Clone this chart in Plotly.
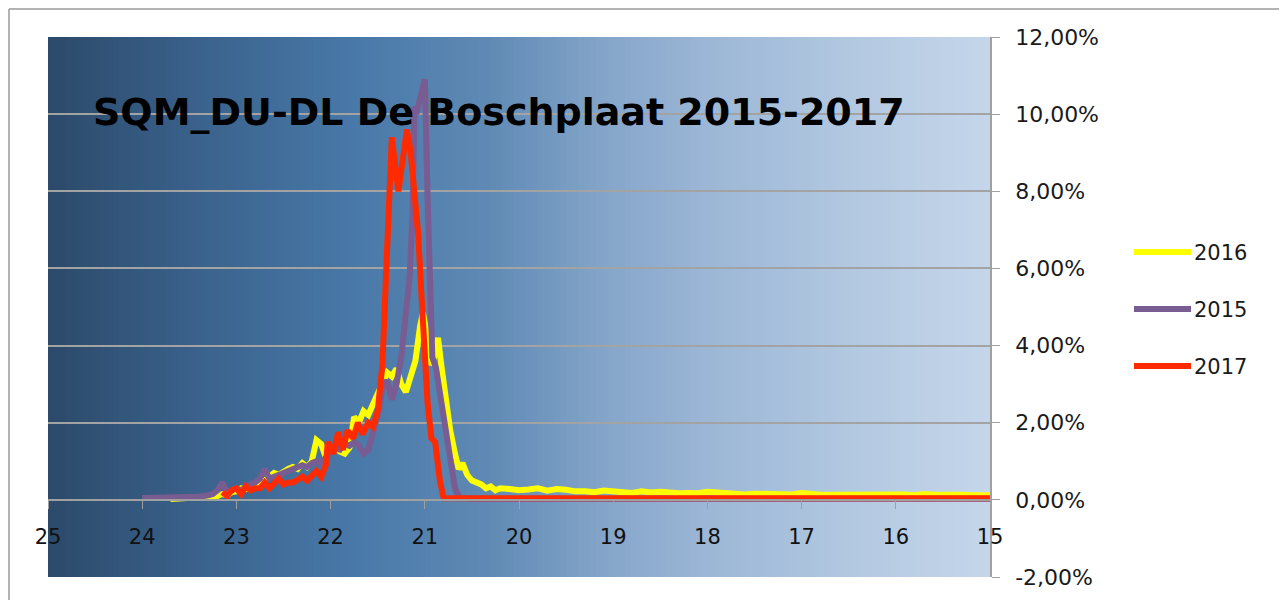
import plotly.graph_objects as go

# ---------------- data (SQM mag/arcsec^2, share of readings in %) ----------------
sqm_2016 = [23.70, 23.60, 23.50, 23.40, 23.30, 23.20, 23.15, 23.10, 23.05, 23.00,
            22.95, 22.90, 22.85, 22.80, 22.75, 22.70, 22.65, 22.60, 22.55, 22.50,
            22.45, 22.40, 22.35, 22.30, 22.25, 22.20, 22.15, 22.10, 22.05, 22.00,
            21.95, 21.90, 21.85, 21.80, 21.75, 21.70, 21.65, 21.60, 21.55, 21.50,
            21.45, 21.40, 21.35, 21.30, 21.25, 21.20, 21.15, 21.10, 21.05, 21.02,
            20.98, 20.94, 20.90, 20.86, 20.82, 20.78, 20.73, 20.68, 20.64, 20.60,
            20.55, 20.50, 20.45, 20.40, 20.35, 20.30, 20.25, 20.20,
            20.1, 20.0, 19.9, 19.8, 19.7, 19.6, 19.5, 19.4, 19.3, 19.2,
            19.1, 19.0, 18.9, 18.8, 18.7, 18.6, 18.5, 18.4, 18.3, 18.2,
            18.1, 18.0, 17.9, 17.8, 17.7, 17.6, 17.5, 17.4, 17.3, 17.2,
            17.1, 17.0, 16.9, 16.8, 16.7, 16.6, 16.5, 16.4, 16.3, 16.2,
            16.1, 16.0, 15.9, 15.8, 15.7, 15.6, 15.5, 15.4, 15.3, 15.2,
            15.1, 15.0]
pct_2016 = [0.02, 0.03, 0.03, 0.05, 0.08, 0.10, 0.15, 0.12, 0.20, 0.22,
            0.30, 0.28, 0.35, 0.40, 0.45, 0.50, 0.60, 0.70, 0.65, 0.75,
            0.80, 0.85, 0.80, 0.95, 0.85, 1.00, 1.55, 1.45, 1.10, 1.30,
            1.35, 1.25, 1.20, 1.35, 2.15, 2.00, 2.30, 2.20, 2.50, 2.80,
            3.10, 3.30, 3.20, 3.40, 3.00, 2.80, 3.20, 3.60, 4.50, 4.85,
            4.30, 3.50, 3.70, 4.20, 3.40, 2.60, 1.80, 1.20, 0.80, 0.95,
            0.65, 0.50, 0.45, 0.40, 0.30, 0.35, 0.25, 0.30,
            0.28, 0.25, 0.27, 0.30, 0.24, 0.28, 0.26, 0.22, 0.22, 0.20,
            0.24, 0.22, 0.20, 0.18, 0.22, 0.19, 0.21, 0.18, 0.17, 0.18,
            0.17, 0.21, 0.19, 0.15, 0.15, 0.14, 0.16, 0.15, 0.14, 0.15,
            0.14, 0.18, 0.15, 0.13, 0.13, 0.13, 0.14, 0.16, 0.16, 0.13,
            0.15, 0.13, 0.14, 0.12, 0.15, 0.13, 0.14, 0.12, 0.13, 0.12,
            0.13, 0.12]

sqm_2015 = [24.00, 23.90, 23.80, 23.70, 23.60, 23.50, 23.40, 23.30, 23.25, 23.20,
            23.15, 23.10, 23.05, 23.00, 22.95, 22.90, 22.85, 22.80, 22.75, 22.70,
            22.65, 22.60, 22.55, 22.50, 22.45, 22.40, 22.35, 22.30, 22.25, 22.20,
            22.15, 22.10, 22.05, 22.00, 21.95, 21.90, 21.85, 21.80, 21.75, 21.70,
            21.65, 21.60, 21.55, 21.50, 21.45, 21.40, 21.35, 21.30, 21.25, 21.20,
            21.16, 21.13, 21.11, 21.09, 21.00, 20.97, 20.92, 20.88, 20.83, 20.78,
            20.73, 20.68, 20.63, 20.5, 20.0, 19.0, 18.0, 17.0, 16.0, 15.0]
pct_2015 = [0.05, 0.05, 0.06, 0.05, 0.07, 0.06, 0.08, 0.12, 0.15, 0.25,
            0.45, 0.20, 0.25, 0.30, 0.25, 0.35, 0.40, 0.45, 0.55, 0.80,
            0.55, 0.60, 0.65, 0.70, 0.75, 0.80, 0.85, 0.90, 0.85, 0.95,
            1.00, 0.95, 1.10, 1.20, 1.35, 1.30, 1.45, 1.40, 1.50, 1.40,
            1.20, 1.30, 1.80, 2.20, 2.90, 3.10, 2.60, 3.00, 3.70, 5.00,
            5.80, 7.50, 10.20, 10.00, 10.90, 7.80, 3.70, 3.40, 2.60, 1.90,
            1.20, 0.30, 0.05, 0.03, 0.03, 0.03, 0.03, 0.03, 0.03, 0.03]

sqm_2017 = [23.15, 23.10, 23.05, 23.00, 22.95, 22.90, 22.85, 22.80, 22.75, 22.70,
            22.65, 22.60, 22.55, 22.50, 22.45, 22.40, 22.35, 22.30, 22.25, 22.20,
            22.15, 22.10, 22.05, 22.03, 21.97, 21.92, 21.87, 21.82, 21.76, 21.71,
            21.66, 21.60, 21.55, 21.50, 21.45, 21.40, 21.35, 21.28, 21.23, 21.19,
            21.15, 21.10, 21.07, 21.04, 21.01, 20.97, 20.93, 20.89, 20.84, 20.80,
            20.5, 20.0, 19.0, 18.0, 17.0, 16.0, 15.0]
pct_2017 = [0.20, 0.10, 0.25, 0.30, 0.15, 0.35, 0.25, 0.30, 0.30, 0.45,
            0.30, 0.40, 0.55, 0.40, 0.45, 0.45, 0.55, 0.60, 0.50, 0.60,
            0.75, 0.60, 0.90, 1.50, 1.20, 1.75, 1.30, 1.80, 1.60, 2.00,
            1.70, 2.00, 1.90, 2.30, 3.50, 6.50, 9.40, 8.00, 9.00, 9.60,
            9.00, 7.50, 6.90, 5.50, 4.00, 2.50, 1.60, 1.50, 0.50, 0.04,
            0.04, 0.04, 0.04, 0.04, 0.04, 0.04, 0.04]

x_ticks = [25, 24, 23, 22, 21, 20, 19, 18, 17, 16, 15]
y_ticks = [-2, 0, 2, 4, 6, 8, 10, 12]
y_tick_labels = ["-2,00%", "0,00%", "2,00%", "4,00%", "6,00%", "8,00%", "10,00%", "12,00%"]

title_text = "SQM_DU-DL De Boschplaat 2015-2017"
series = [("2016", sqm_2016, pct_2016, "#ffff00"),
          ("2015", sqm_2015, pct_2015, "#795c92"),
          ("2017", sqm_2017, pct_2017, "#ff2a00")]

# ---------------- figure ----------------
FONT = "DejaVu Sans"
fig = go.Figure()
for name, xs, ys, col in series:
    fig.add_trace(go.Scatter(x=xs, y=ys, mode="lines", name=name,
                             line=dict(color=col, width=6), showlegend=False))

OFF = 8                      # page body margin
W, H = 1287 - OFF, 600 - OFF
L, T = 48 - OFF, 37 - OFF
pw, ph = 942, 540
R, B = W - L - pw, H - T - ph

def px2paper_x(px):          # page pixel -> paper fraction
    return (px - OFF - L) / pw

def px2paper_y(py):
    return 1 - (py - OFF - T) / ph

# background gradient (dark slate blue -> light blue)
stops = [(0.00, (44, 74, 106)), (0.16, (58, 98, 140)), (0.32, (72, 120, 168)),
         (0.47, (96, 138, 181)), (0.59, (132, 165, 201)), (0.69, (154, 181, 213)),
         (0.85, (178, 200, 225)), (1.00, (197, 214, 234))]

def grad(t):
    for (t0, c0), (t1, c1) in zip(stops[:-1], stops[1:]):
        if t0 <= t <= t1:
            f = (t - t0) / (t1 - t0)
            return "rgb(%d,%d,%d)" % tuple(round(a + (b - a) * f) for a, b in zip(c0, c1))
    return "rgb(%d,%d,%d)" % stops[-1][1]

shapes = []
N = 160
for i in range(N):
    t0, t1 = i / N, (i + 1) / N
    shapes.append(dict(type="rect", xref="paper", yref="paper", x0=t0, x1=t1 + 0.002,
                       y0=0, y1=1, fillcolor=grad((t0 + t1) / 2), line=dict(width=0),
                       layer="below"))

# outer chart frame (top and left edges)
fx, fy = OFF + 1, OFF + 1
shapes.append(dict(type="line", xref="paper", yref="paper",
                   x0=px2paper_x(fx), x1=px2paper_x(1300), y0=px2paper_y(fy), y1=px2paper_y(fy),
                   line=dict(color="#9a9a9a", width=1.5), layer="below"))
shapes.append(dict(type="line", xref="paper", yref="paper",
                   x0=px2paper_x(fx), x1=px2paper_x(fx), y0=px2paper_y(fy), y1=px2paper_y(620),
                   line=dict(color="#9a9a9a", width=1.5), layer="below"))

annotations = [dict(text=title_text, xref="paper", yref="paper",
                    x=px2paper_x(91), y=px2paper_y(112), xanchor="left", yanchor="middle",
                    showarrow=False,
                    font=dict(family=FONT, size=38, color="#000000", weight="bold"))]

# legend (manual, to mimic long line samples)
leg_y = [252, 309, 366]
for (name, xs, ys, col), py in zip(series, leg_y):
    shapes.append(dict(type="line", xref="paper", yref="paper",
                       x0=px2paper_x(1134), x1=px2paper_x(1191),
                       y0=px2paper_y(py), y1=px2paper_y(py),
                       line=dict(color=col, width=6)))
    annotations.append(dict(text=name, xref="paper", yref="paper",
                            x=px2paper_x(1192), y=px2paper_y(py + 1), xanchor="left",
                            yanchor="middle", showarrow=False,
                            font=dict(family=FONT, size=21, color="#1a1a1a")))

fig.update_layout(
    width=W, height=H,
    margin=dict(l=L, r=R, t=T, b=B, autoexpand=False),
    paper_bgcolor="white", plot_bgcolor="rgba(0,0,0,0)",
    shapes=shapes, annotations=annotations,
    showlegend=False,
    font=dict(family=FONT, size=20, color="#1a1a1a"),
    xaxis=dict(range=[25, 15], tickvals=x_ticks, ticks="outside", ticklen=8,
               tickcolor="#a0a0a0", showline=True, linecolor="#a0a0a0", linewidth=1.5,
               showgrid=False, zeroline=False, anchor="free", position=2 / 14,
               tickfont=dict(family=FONT, size=21, color="#111111"),
               ticklabelstandoff=10),
    yaxis=dict(range=[-2, 12], side="right", tickvals=y_ticks, ticktext=y_tick_labels,
               ticks="outside", ticklen=8, tickcolor="#a0a0a0",
               showline=True, linecolor="#a0a0a0", linewidth=1.5,
               showgrid=True, gridcolor="#a3a3a3", gridwidth=1.5, zeroline=False,
               tickfont=dict(family=FONT, size=22, color="#1a1a1a"),
               ticklabelstandoff=11),
)

fig.write_html("out.html")
